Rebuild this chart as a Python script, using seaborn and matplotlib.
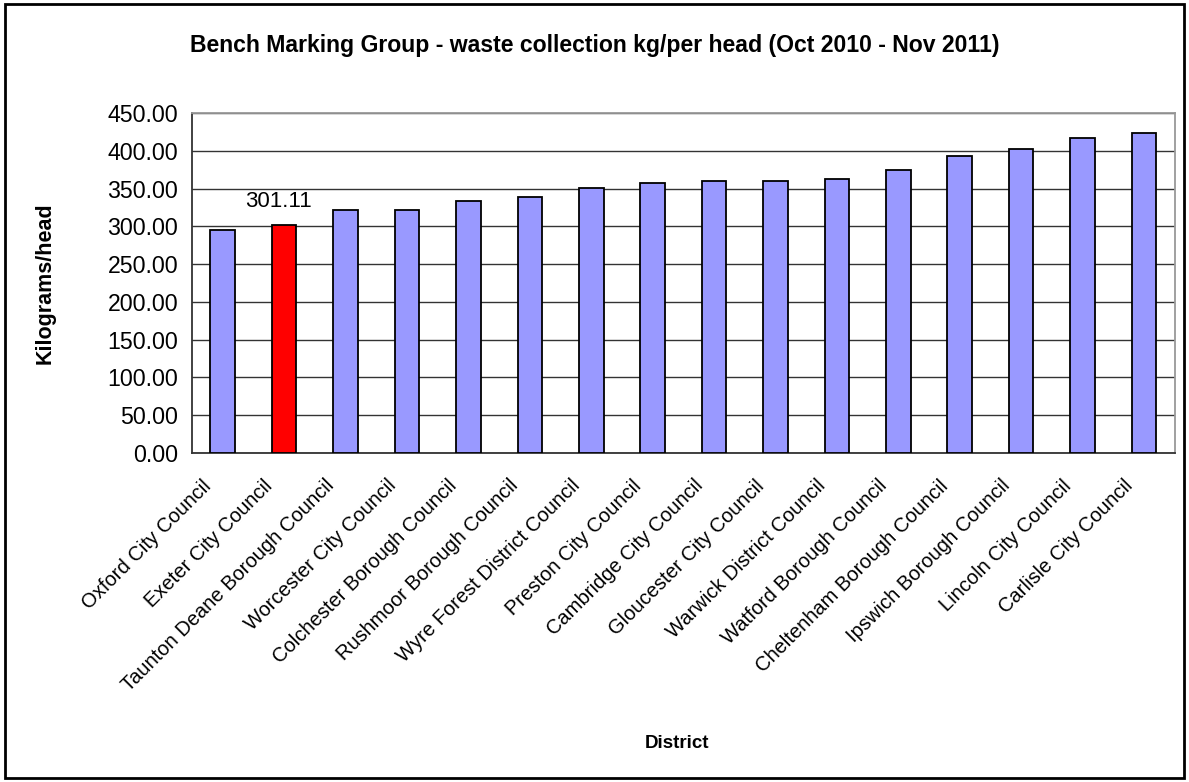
"""
Bench marking group - waste collection kg per head, bar chart.
"""

import matplotlib
matplotlib.use("Agg")
import matplotlib.pyplot as plt
import matplotlib.transforms as mtransforms
import seaborn as sns
import pandas as pd
from matplotlib.patches import Rectangle
from matplotlib.ticker import FixedLocator

districts = [
    "Oxford City Council", "Exeter City Council", "Taunton Deane Borough Council",
    "Worcester City Council", "Colchester Borough Council", "Rushmoor Borough Council",
    "Wyre Forest District Council", "Preston City Council", "Cambridge City Council",
    "Gloucester City Council", "Warwick District Council", "Watford Borough Council",
    "Cheltenham Borough Council", "Ipswich Borough Council", "Lincoln City Council",
    "Carlisle City Council",
]
kg_per_head = [295.6, 301.11, 321.7, 321.7, 333.6, 338.5, 350.9, 357.0,
               359.7, 359.7, 362.4, 374.3, 392.9, 402.2, 416.4, 424.0]
highlight = "Exeter City Council"

sns.set_style("white")
plt.rcParams["font.family"] = ["Liberation Sans", "DejaVu Sans"]
plt.rcParams["text.color"] = "black"
plt.rcParams["xtick.color"] = "black"
plt.rcParams["ytick.color"] = "black"

df = pd.DataFrame({"district": districts, "kg": kg_per_head})
df["group"] = ["hl" if d == highlight else "other" for d in districts]

fig = plt.figure(figsize=(11.89, 7.82), dpi=100)
ax = fig.add_axes([0.1615, 0.4207, 0.8265, 0.4348])

sns.barplot(data=df, x="district", y="kg", hue="group",
            palette={"other": "#9999FF", "hl": "#FF0000"}, saturation=1,
            width=0.4, dodge=False, legend=False,
            edgecolor="black", linewidth=1.3, ax=ax, zorder=3)

ax.set_xlim(-0.5, len(districts) - 0.5)
ax.set_ylim(0, 450)
ax.set_yticks(range(0, 451, 50))
ax.set_yticklabels([f"{v:.2f}" for v in range(0, 451, 50)], fontsize=16.7)
ax.yaxis.grid(True, color="#333333", linewidth=1, zorder=0)
ax.set_axisbelow(True)

ax.set_xticks(range(len(districts)))
ax.set_xticklabels(districts, rotation=45, ha="right", rotation_mode="anchor",
                   fontsize=14.5)
ax.tick_params(axis="x", length=0, pad=8)
# push the slanted labels a bit down-left, like the original
shift = mtransforms.ScaledTranslation(-0.21, -0.12, fig.dpi_scale_trans)
for lbl in ax.get_xticklabels():
    lbl.set_transform(lbl.get_transform() + shift)
ax.xaxis.set_minor_locator(FixedLocator([i - 0.5 for i in range(len(districts) + 1)]))
ax.tick_params(axis="x", which="minor", length=6, width=1, color="#333333", direction="out")
ax.tick_params(axis="y", length=6, width=1, color="#333333", direction="out", pad=4)

for side in ["left", "bottom"]:
    ax.spines[side].set_color("#333333")
    ax.spines[side].set_linewidth(1.3)
for side in ["top", "right"]:
    ax.spines[side].set_color("#999999")
    ax.spines[side].set_linewidth(1.3)

# data label on the highlighted bar
hi = districts.index(highlight)
ax.annotate(f"{kg_per_head[hi]:.2f}", xy=(hi, kg_per_head[hi]), xytext=(-4, 10),
            textcoords="offset points", ha="center", va="bottom", fontsize=16)

ax.set_xlabel("")
ax.set_ylabel("")
fig.text(0.5, 0.942, "Bench Marking Group - waste collection kg/per head (Oct 2010 - Nov 2011)",
         ha="center", va="center", fontsize=16.6, fontweight="bold")
fig.text(0.038, 0.638, "Kilograms/head", rotation=90, ha="center", va="center",
         fontsize=15.5, fontweight="bold")
fig.text(0.569, 0.049, "District", ha="center", va="center",
         fontsize=13.5, fontweight="bold")

fig.patches.append(Rectangle((0.004, 0.005), 0.992, 0.99, transform=fig.transFigure,
                             fill=False, edgecolor="black", linewidth=2))

fig.savefig("out.png", dpi=100)
